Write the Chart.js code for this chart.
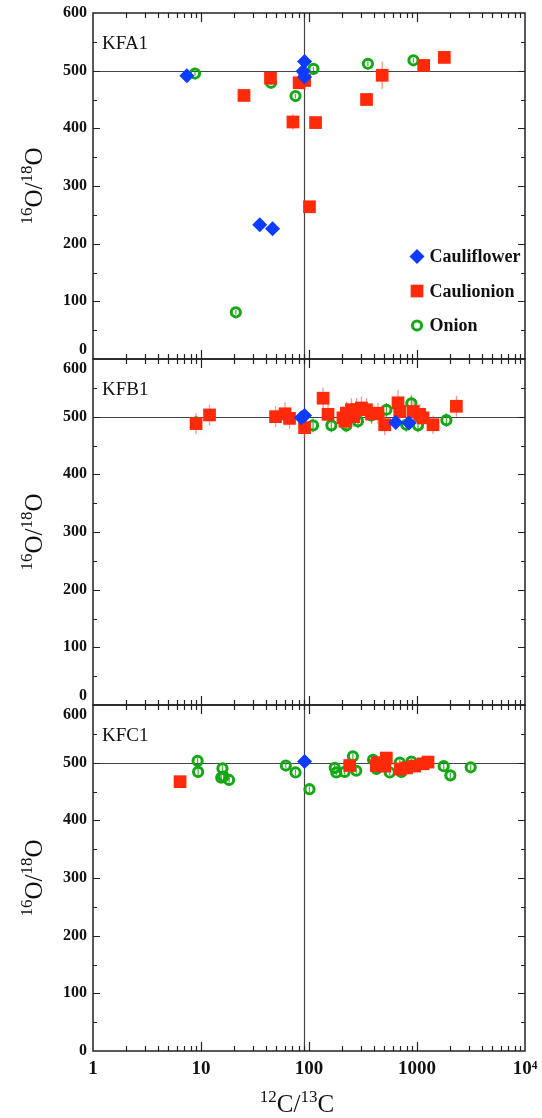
<!DOCTYPE html>
<html>
<head>
<meta charset="utf-8">
<script src="https://cdn.jsdelivr.net/npm/chart.js@4.4.1/dist/chart.umd.min.js"></script>
<style>
html, body { margin: 0; padding: 0; background: #fff; }
#wrap { position: relative; width: 542px; height: 1118px; overflow: hidden; }
canvas { position: absolute; left: 0; }
</style>
</head>
<body>
<div id="wrap">
  <canvas id="panelA" width="542" height="360" style="top:0px"></canvas>
  <canvas id="panelB" width="542" height="347" style="top:359px"></canvas>
  <canvas id="panelC" width="542" height="413" style="top:705px"></canvas>
</div>
<script>
const SERIF = '"Liberation Serif", "Times New Roman", Times, serif';

// names / ticks
const panelNames = ['KFA1', 'KFB1', 'KFC1'];
const seriesNames = ['Cauliflower', 'Caulionion', 'Onion'];
const oTicks = [0, 100, 200, 300, 400, 500, 600];
const cTicks = [1, 10, 100, 1000, 10000];
const cTickLabels = ['1', '10', '100', '1000', '10\u2074'];
const solarC = 89;   // vertical reference line
const solarO = 499;  // horizontal reference line

// [12C/13C, 16O/18O, error]
const kfa1Cauliflower = [[7.4,491],[35,233],[46,226],[88,499],[91,489],[91,516]];
const kfa1Caulionion = [[25,457,6],[44,487,6],[71,411,14],[81,479,8],[91,483,8],[101,264,6],
  [115,410,6],[341,450,6],[476,492,24],[1153,509,6],[1790,523,9]];
const kfa1Onion = [[8.8,495,4],[21,81,4],[44.5,479,4],[75,456,4],[110,503,4],[351,512,4],[927,518,4]];

const kfb1Cauliflower = [[85,498],[91,502],[635,490],[843,489]];
const kfb1Caulionion = [[9,488,18],[12,503,18],[49,500,18],[60,505,20],[66,497,18],[91,481,18],
  [135,532,18],[150,504,18],[206,498,20],[215,492,18],[222,506,20],[247,512,20],[260,500,18],
  [275,512,20],[306,515,20],[340,512,20],[380,505,18],[435,506,18],[502,486,18],[667,524,22],
  [692,509,20],[918,509,20],[1059,504,18],[1137,498,18],[1406,486,16],[2316,518,18]];
const kfb1Onion = [[9,490,10],[109,485,12],[161,485,12],[222,485,12],[284,492,12],[378,502,12],
  [521,512,12],[795,486,12],[887,523,14],[1021,485,12],[1871,494,12]];

const kfc1Cauliflower = [[91,502]];
const kfc1Caulionion = [[6.4,467],[238,495],[421,495],[430,500],[502,494],[520,508],[700,489],
  [800,491],[950,494],[1137,498],[1265,501]];
const kfc1Onion = [[9.3,503,5],[9.4,484,5],[15.4,474,5],[15.8,490,5],[16.2,476,5],[18.2,470,5],
  [61,495,5],[75,483,5],[101,454,5],[173,491,5],[179,483,5],[214,484,5],[255,511,5],[274,486,5],
  [392,505,5],[421,489,5],[559,483,5],[692,500,5],[717,484,5],[887,502,5],[1767,494,5],
  [2037,478,5],[3141,492,5]];

const blue = '#0c3cff', red = '#ff2a0a', green = '#14a814';
const errColors = ['rgba(12,60,255,0.6)', 'rgba(255,70,60,0.6)', 'rgba(20,168,20,0.8)'];

// where each plot area sits on the page
const panelTops = [13, 359, 705];
const panelHeight = 346;

function pts(arr) { return arr.map(a => ({x: a[0], y: a[1], e: a[2] || 0})); }

function makeDatasets(cauli, caulion, onion) {
  return [
    {label: seriesNames[0], data: pts(cauli), order: 0, pointStyle: 'rectRot', pointRadius: 7.5,
     pointBackgroundColor: blue, pointBorderColor: blue, pointBorderWidth: 0},
    {label: seriesNames[1], data: pts(caulion), order: 1, pointStyle: 'rect', pointRadius: 9,
     pointBackgroundColor: red, pointBorderColor: red, pointBorderWidth: 0},
    {label: seriesNames[2], data: pts(onion), order: 2, pointStyle: 'circle', pointRadius: 4.6,
     pointBackgroundColor: 'rgba(255,255,255,0)', pointBorderColor: green, pointBorderWidth: 3}
  ];
}

// text with superscript parts: [text, isSup]
function richText(ctx, parts, x, y, size) {
  const big = size + 'px ' + SERIF, small = Math.round(size * 0.68) + 'px ' + SERIF;
  let w = 0;
  parts.forEach(([t, s]) => { ctx.font = s ? small : big; w += ctx.measureText(t).width; });
  let cx = x - w / 2;
  ctx.textAlign = 'left';
  ctx.textBaseline = 'alphabetic';
  parts.forEach(([t, s]) => {
    ctx.font = s ? small : big;
    ctx.fillText(t, cx, s ? y - size * 0.4 : y);
    cx += ctx.measureText(t).width;
  });
}

function decoPlugin(p) {
  return {
    id: 'deco' + p,
    beforeDatasetsDraw(chart) {
      const {ctx, chartArea: a, scales: {x, y}} = chart;
      ctx.save();
      // reference lines
      ctx.strokeStyle = '#444';
      ctx.lineWidth = 1.2;
      ctx.beginPath();
      const hy = Math.round(y.getPixelForValue(solarO)) + 0.5;
      const vx = Math.round(x.getPixelForValue(solarC)) + 0.5;
      ctx.moveTo(a.left, hy); ctx.lineTo(a.right, hy);
      ctx.moveTo(vx, a.top); ctx.lineTo(vx, a.bottom);
      ctx.stroke();
      // error bars
      chart.data.datasets.forEach((ds, i) => {
        const meta = chart.getDatasetMeta(i);
        ctx.strokeStyle = errColors[i];
        ctx.lineWidth = 1.3;
        meta.data.forEach((el, j) => {
          const r = ds.data[j];
          if (!r.e) return;
          ctx.beginPath();
          ctx.moveTo(el.x, y.getPixelForValue(r.y + r.e));
          ctx.lineTo(el.x, y.getPixelForValue(r.y - r.e));
          ctx.stroke();
        });
      });
      ctx.restore();
    },
    afterDatasetsDraw(chart) {
      const {ctx, chartArea: a, scales: {x, y}} = chart;
      ctx.save();
      // inward ticks
      ctx.strokeStyle = '#222';
      ctx.lineWidth = 1.2;
      ctx.beginPath();
      for (let d = 1; d < 10000; d *= 10) {
        for (let m = 1; m < 10; m++) {
          const v = m * d;
          if (v === 1) continue;
          const px = Math.round(x.getPixelForValue(v)) + 0.5;
          const len = m === 1 ? 9 : 5;
          ctx.moveTo(px, a.top); ctx.lineTo(px, a.top + len);
          ctx.moveTo(px, a.bottom); ctx.lineTo(px, a.bottom - len);
        }
      }
      for (let v = 50; v < 600; v += 50) {
        const py = Math.round(y.getPixelForValue(v)) + 0.5;
        const len = v % 100 === 0 ? 7 : 4;
        ctx.moveTo(a.left, py); ctx.lineTo(a.left + len, py);
        ctx.moveTo(a.right, py); ctx.lineTo(a.right - len, py);
      }
      ctx.stroke();
      ctx.lineWidth = 1.5;
      ctx.strokeRect(a.left, a.top, a.right - a.left, a.bottom - a.top);

      // panel name
      ctx.fillStyle = '#111';
      ctx.font = '19px ' + SERIF;
      ctx.textAlign = 'left';
      ctx.textBaseline = 'alphabetic';
      ctx.fillText(panelNames[p], a.left + 9, a.top + 36);

      // y title
      ctx.save();
      ctx.translate(34, (a.top + a.bottom) / 2);
      ctx.rotate(-Math.PI / 2);
      richText(ctx, [['16', 1], ['O/', 0], ['18', 1], ['O', 0]], 0, 8, 25);
      ctx.restore();

      // x title on bottom panel
      if (p === 2) {
        richText(ctx, [['12', 1], ['C/', 0], ['13', 1], ['C', 0]], 297, a.bottom + 61, 25);
      }

      // legend inside first panel
      if (p === 0) {
        chart.data.datasets.forEach((ds, i) => {
          const mx = a.right - 108, my = a.bottom - 102.5 + i * 34.5;
          ctx.fillStyle = ds.pointBackgroundColor;
          ctx.strokeStyle = ds.pointBorderColor;
          ctx.lineWidth = ds.pointBorderWidth;
          Chart.helpers.drawPoint(ctx, {pointStyle: ds.pointStyle, rotation: 0,
            radius: ds.pointRadius, borderWidth: ds.pointBorderWidth}, mx, my);
          ctx.fillStyle = '#111';
          ctx.font = 'bold 18px ' + SERIF;
          ctx.textAlign = 'left';
          ctx.textBaseline = 'middle';
          ctx.fillText(ds.label, a.right - 95.5, my + 1);
        });
      }
      ctx.restore();
    }
  };
}

function makePanel(id, p, sets, padTop, padBottom) {
  const last = p === 2;
  const chart = new Chart(document.getElementById(id), {
    type: 'scatter',
    data: {datasets: makeDatasets(...sets)},
    options: {
      responsive: false,
      maintainAspectRatio: false,
      animation: false,
      events: [],
      layout: {padding: {top: padTop, bottom: padBottom, left: 0, right: 17}},
      plugins: {legend: {display: false}, tooltip: {enabled: false}},
      scales: {
        x: {
          type: 'logarithmic', min: 1, max: 10000, display: last,
          afterBuildTicks: s => { s.ticks = cTicks.map(v => ({value: v, major: true})); },
          afterFit: s => { s.height = last ? 45 : 0; s.paddingLeft = 0; s.paddingRight = 0; },
          grid: {display: false, drawTicks: false},
          border: {display: false},
          ticks: {
            font: {family: SERIF, size: 19, weight: 'bold'}, color: '#111',
            padding: 7, maxRotation: 0, autoSkip: false,
            callback: v => cTickLabels[cTicks.indexOf(v)]
          }
        },
        y: {
          type: 'linear', min: 0, max: 600,
          afterBuildTicks: s => { s.ticks = oTicks.map(v => ({value: v})); },
          afterFit: s => { s.width = 93; s.paddingTop = 0; s.paddingBottom = 0; },
          grid: {display: false, drawTicks: false},
          border: {display: false},
          ticks: {
            font: {family: SERIF, size: 16, weight: 'bold'}, color: '#111', padding: 6,
            callback: v => {
              const s = String(v);
              if (v === 600 && p > 0) return ['', s];
              if (v === 0 && p < 2) return [s, ''];
              return s;
            }
          }
        }
      }
    },
    plugins: [decoPlugin(p)]
  });
  // size the canvas so the plot area has the wanted height, then move it into place
  for (let k = 0; k < 3; k++) {
    const a = chart.chartArea;
    const dh = panelHeight - (a.bottom - a.top);
    if (Math.abs(dh) < 0.5) break;
    chart.resize(542, Math.round(chart.height + dh));
  }
  chart.canvas.style.top = Math.round(panelTops[p] - chart.chartArea.top) + 'px';
  return chart;
}

makePanel('panelA', 0, [kfa1Cauliflower, kfa1Caulionion, kfa1Onion], 13, 1);
makePanel('panelB', 1, [kfb1Cauliflower, kfb1Caulionion, kfb1Onion], 10, 1);
makePanel('panelC', 2, [kfc1Cauliflower, kfc1Caulionion, kfc1Onion], 10, 22);
</script>
</body>
</html>
